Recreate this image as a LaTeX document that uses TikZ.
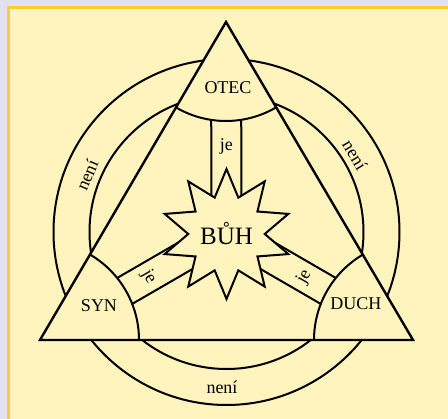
\documentclass[tikz,border=0pt]{standalone}
\usepackage{fontspec}
\setmainfont{Liberation Serif}
\usetikzlibrary{calc, positioning, shapes.geometric}
\definecolor{mist}{HTML}{E3E1EC}
\definecolor{gold}{HTML}{FFCC33}
\definecolor{cream}{HTML}{FFF3BE}

\begin{document}
\begin{tikzpicture}[x=1pt, y=1pt, line width=2pt,
    side/.style={line width=2.4pt, line join=miter},
    word/.style={inner sep=0pt, font=\fontsize{18}{18}\selectfont}]
    \useasboundingbox (0,0) rectangle (448,419);
    % Frame
    \fill[mist] (0,0) rectangle (448,419);
    \fill[gold] (7,-5) rectangle (453,413);
    \fill[cream] (10,-5) rectangle (453,410);

    % Corners and centre
    \coordinate (O) at (226.5,187);
    \coordinate (otec) at (226,397);
    \coordinate (syn) at (40,79);
    \coordinate (duch) at (413,79);

    % Ring
    \draw (O) circle[radius=173];
    \draw (O) circle[radius=137];
    \fill[cream] (otec) -- (syn) -- (duch) -- cycle;

    % Spokes and corner fields
    \begin{scope}
        \clip (otec) -- (syn) -- (duch) -- cycle;
        \foreach \v in {otec, syn, duch} {
            \draw ($(O)!15pt!90:(\v)$) -- ($(\v)!15pt!-90:(O)$);
            \draw ($(O)!15pt!-90:(\v)$) -- ($(\v)!15pt!90:(O)$);
        }
        \foreach \v in {otec, syn, duch}
            \draw[fill=cream] (\v) circle[radius=99];
    \end{scope}
    \draw[side] (otec) -- (syn) -- (duch) -- cycle;

    % Nodes
    \node[star, star points=10, star point ratio=1.7, minimum size=130pt, inner sep=0pt,
        draw, fill=cream, font=\fontsize{25}{25}\selectfont] (buh) at (226.5,185) {BŮH};
    \node[word] (otec-t) at (228,331) {OTEC};
    \node[word] (syn-t) at (99,113) {SYN};
    \node[word] (duch-t) at (356,115) {DUCH};
    \node[word] (je-otec) at ($(O)!86pt!(otec)$) {je};
    \node[word, rotate=-60] (je-syn) at ($(O)!90pt!(syn)$) {je};
    \node[word, rotate=60] (je-duch) at ($(O)!90pt!(duch)$) {je};
    \node[word, rotate=67] (neni-l) at (87,244) {není};
    \node[word, rotate=-59] (neni-r) at (355,264) {není};
    \node[word] (neni-b) at (222,32) {není};
\end{tikzpicture}
\end{document}
